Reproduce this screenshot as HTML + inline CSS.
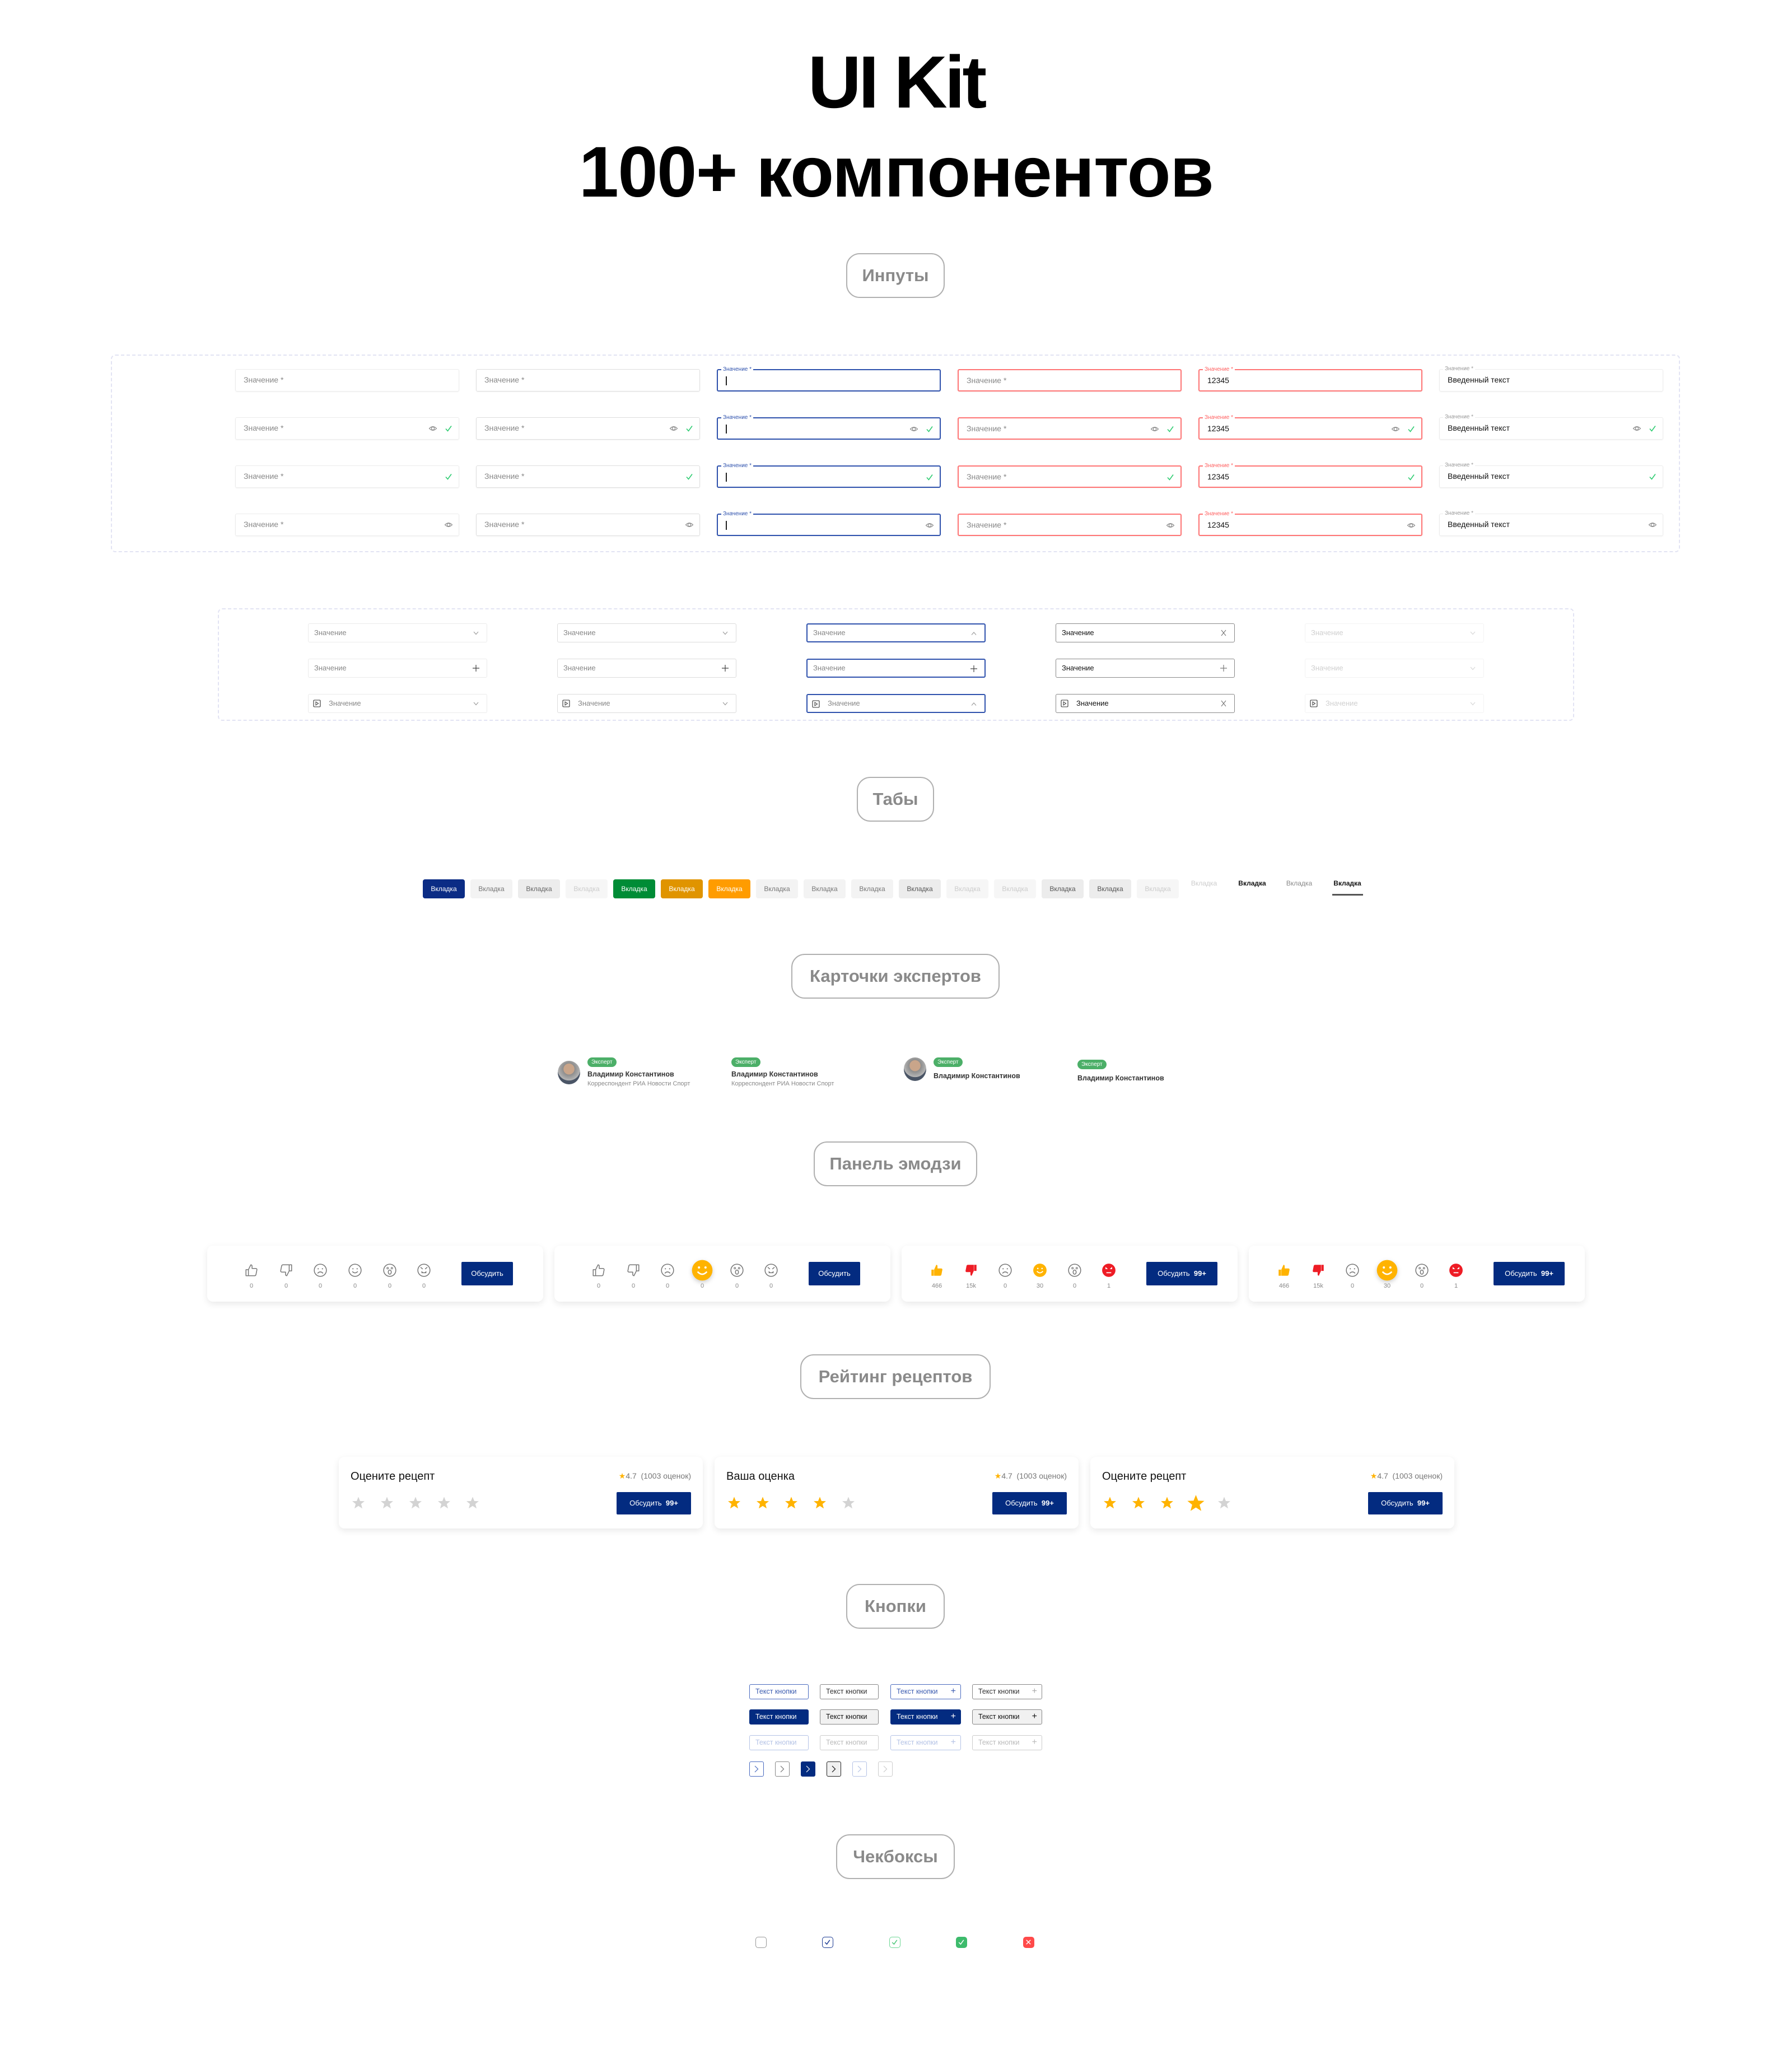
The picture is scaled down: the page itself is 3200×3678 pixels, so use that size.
<!DOCTYPE html>
<html><head><meta charset="utf-8">
<style>
*{box-sizing:border-box;margin:0;padding:0}
body{width:3200px;height:3678px;background:#fff;position:relative;font-family:"Liberation Sans",sans-serif;overflow:hidden}
.a{position:absolute}
.t1{position:absolute;left:0;width:3200px;text-align:center;font-weight:bold;color:#000;letter-spacing:-5px}
.pill{position:absolute;height:80px;border:2px solid #b0b0b0;border-radius:24px;font-weight:bold;font-size:31px;color:#8a8a8a;line-height:76px;text-align:center}
.dash{position:absolute;border:2px dashed #e2e3f3;border-radius:8px}
.in{position:absolute;width:400px;height:40px;border:1.5px solid #ececec;border-radius:3px;font-size:14px;color:#888;padding-left:14px;line-height:37px;box-shadow:0 1px 2px rgba(0,0,0,.05)}
.in.g2{border-color:#dedede}
.in.b{border:2px solid #2f52ad;line-height:36px}
.in.r{border:2px solid #ff7575;line-height:36px}
.in.k{color:#111}
.lb{position:absolute;top:-8px;left:6px;background:#fff;padding:0 3px;font-size:10px;line-height:13px;color:#999}
.b .lb{color:#2f52ad}.r .lb{color:#ff6060}
.cur{position:absolute;left:14px;top:11px;width:1.5px;height:16px;background:#222}
.i1,.i2{position:absolute;top:11px;width:16px;height:16px}
.i1{right:38px}.i2{right:10px}
.dd{position:absolute;width:320px;height:34px;border:1.5px solid #ebebeb;border-radius:3px;font-size:13px;color:#888;padding-left:10px;line-height:31px}
.dd.b{border:2px solid #2f52ad;line-height:30px}
.dd.d{border:1.5px solid #8a8a8a;color:#111}
.dd.f{border-color:#f3f3f3;color:#d0d0d0}
.dd .ic{position:absolute;right:12px;top:9px;width:14px;height:14px}
.dd .pl{position:absolute;left:8px;top:9px;width:14px;height:14px}
.dd.p{padding-left:36px}
.tab{position:absolute;top:1570px;width:75px;height:34px;border-radius:4px;font-size:12px;line-height:34px;text-align:center}
.bd{position:absolute;height:17px;padding:0 7px;background:#4caf68;color:#fff;border-radius:9px;font-size:10px;line-height:17px}
.nm{position:absolute;font-size:12.5px;font-weight:bold;color:#333;white-space:nowrap}
.sb{position:absolute;font-size:11px;color:#888;white-space:nowrap}
.av{position:absolute;width:40px;height:42px;border-radius:50%;background:radial-gradient(circle at 50% 35%,#c9a58a 0 28%,#8d8d8d 30%,#b5b5b5 60%,#4a5566 61%)}
.ep{position:absolute;top:2224px;width:600px;height:100px;border-radius:10px;background:#fff;box-shadow:0 4px 12px rgba(0,0,0,.09)}
.ep svg{position:absolute;top:31px;width:26px;height:26px}
.ep .big{top:24px;width:40px;height:40px;filter:drop-shadow(0 3px 4px rgba(0,0,0,.2))}
.cn{position:absolute;top:66px;width:40px;text-align:center;font-size:11px;color:#888}
.btn{position:absolute;top:29px;height:42px;background:#032b80;color:#fff;font-size:13px;line-height:42px;text-align:center;border-radius:2px}
.rc{position:absolute;top:2601px;width:650px;height:128px;border-radius:10px;background:#fff;box-shadow:0 4px 12px rgba(0,0,0,.09)}
.rt{position:absolute;left:21px;top:24px;font-size:20px;color:#111}
.rr{position:absolute;right:21px;top:26px;font-size:14px;color:#777}
.rc .st{position:absolute;top:70px;width:24px;height:24px}
.rb{position:absolute;right:21px;top:63px;width:133px;height:40px;background:#032b80;color:#fff;font-size:13px;line-height:40px;text-align:center;border-radius:2px}
.kb{position:absolute;height:27px;border:1.5px solid;border-radius:3px;font-size:12.5px;line-height:24px;padding-left:10px;white-space:nowrap}
.kb .pp{position:absolute;right:8px;top:0;font-size:16px}
.cv{position:absolute;top:3145px;width:26px;height:27px;border:1.5px solid;border-radius:3px}
.cb{position:absolute;top:3458px;width:20px;height:20px;border-radius:5px;border:1.5px solid}
</style></head><body>
<svg width="0" height="0" style="position:absolute">
<defs>
<symbol id="eye" viewBox="0 0 16 16"><path d="M1.5 8 Q8 1.5 14.5 8 Q8 14.5 1.5 8Z" fill="none" stroke="#8a8a8a" stroke-width="1.2"/><circle cx="8" cy="8" r="2.6" fill="none" stroke="#8a8a8a" stroke-width="1.2"/></symbol>
<symbol id="chk" viewBox="0 0 16 16"><path d="M3 8.5 L6.5 12.5 L13 3.5" fill="none" stroke="#2ecc71" stroke-width="1.6"/></symbol>
<symbol id="dn" viewBox="0 0 14 14"><path d="M3 5 L7 9.5 L11 5" fill="none" stroke="#999" stroke-width="1.1"/></symbol>
<symbol id="up" viewBox="0 0 14 14"><path d="M3 9.5 L7 5 L11 9.5" fill="none" stroke="#999" stroke-width="1.1"/></symbol>
<symbol id="pls" viewBox="0 0 14 14"><path d="M7 1 V13 M1 7 H13" fill="none" stroke="#444" stroke-width="1.2"/></symbol>
<symbol id="xx" viewBox="0 0 14 14"><path d="M3 2 L11 12 M11 2 L3 12" fill="none" stroke="#777" stroke-width="1.1"/></symbol>
<symbol id="ply" viewBox="0 0 14 14"><rect x="1" y="1" width="12" height="12" rx="1.5" fill="none" stroke="#333" stroke-width="1.1"/><path d="M5 4 L9.5 7 L5 10Z" fill="none" stroke="#333" stroke-width="1"/></symbol>
<symbol id="tu" viewBox="0 0 24 24"><path d="M3 11 H7 V21 H3Z M7 11 L11 3 C12.5 3 13 4 13 5.5 V9 H19 C20.5 9 21.3 10 21 11.3 L19.5 19 C19.2 20.3 18.4 21 17.2 21 H7" fill="none" stroke="#777" stroke-width="1.4" stroke-linejoin="round"/></symbol>
<symbol id="td" viewBox="0 0 24 24"><g transform="rotate(180 12 12)"><path d="M3 11 H7 V21 H3Z M7 11 L11 3 C12.5 3 13 4 13 5.5 V9 H19 C20.5 9 21.3 10 21 11.3 L19.5 19 C19.2 20.3 18.4 21 17.2 21 H7" fill="none" stroke="#777" stroke-width="1.4" stroke-linejoin="round"/></g></symbol>
<symbol id="tuf" viewBox="0 0 24 24"><path d="M3 11 H7 V21 H3Z M7.5 11 L11 3 C12.5 3 13 4 13 5.5 V9 H19 C20.5 9 21.3 10 21 11.3 L19.5 19 C19.2 20.3 18.4 21 17.2 21 H7.5Z" fill="#ffb300"/></symbol>
<symbol id="tdf" viewBox="0 0 24 24"><g transform="rotate(180 12 12)"><path d="M3 11 H7 V21 H3Z M7.5 11 L11 3 C12.5 3 13 4 13 5.5 V9 H19 C20.5 9 21.3 10 21 11.3 L19.5 19 C19.2 20.3 18.4 21 17.2 21 H7.5Z" fill="#ee1c25"/></g></symbol>
<symbol id="sad" viewBox="0 0 24 24"><circle cx="12" cy="12" r="10" fill="none" stroke="#777" stroke-width="1.4"/><circle cx="8.5" cy="9.5" r="1" fill="#777"/><circle cx="15.5" cy="9.5" r="1" fill="#777"/><path d="M7.5 17 Q12 12.5 16.5 17" fill="none" stroke="#777" stroke-width="1.4"/></symbol>
<symbol id="sm" viewBox="0 0 24 24"><circle cx="12" cy="12" r="10" fill="none" stroke="#777" stroke-width="1.4"/><circle cx="8.5" cy="9.5" r="1" fill="#777"/><circle cx="15.5" cy="9.5" r="1" fill="#777"/><path d="M7.5 14 Q12 18.5 16.5 14" fill="none" stroke="#777" stroke-width="1.4"/></symbol>
<symbol id="smf" viewBox="0 0 24 24"><circle cx="12" cy="12" r="11" fill="#ffb300"/><circle cx="8.5" cy="9" r="1.2" fill="#fff"/><circle cx="15.5" cy="9" r="1.2" fill="#fff"/><path d="M7 13.5 Q12 19 17 13.5" fill="none" stroke="#fff" stroke-width="1.6"/></symbol>
<symbol id="wow" viewBox="0 0 24 24"><circle cx="12" cy="12" r="10" fill="none" stroke="#777" stroke-width="1.4"/><circle cx="8.5" cy="8.5" r="1.3" fill="none" stroke="#777"/><circle cx="15.5" cy="8.5" r="1.3" fill="none" stroke="#777"/><ellipse cx="12" cy="15" rx="2.5" ry="3.5" fill="none" stroke="#777" stroke-width="1.4"/></symbol>
<symbol id="ang" viewBox="0 0 24 24"><circle cx="12" cy="12" r="10" fill="none" stroke="#777" stroke-width="1.4"/><path d="M6.5 7 L10 10 M17.5 7 L14 10 M8 16 H16 M8 14 L10 16 M16 14 L14 16" fill="none" stroke="#777" stroke-width="1.4"/></symbol>
<symbol id="angf" viewBox="0 0 24 24"><circle cx="12" cy="12" r="11" fill="#ee1c25"/><path d="M6.5 6.5 L10.5 10 L6.5 10Z M17.5 6.5 L13.5 10 L17.5 10Z" fill="#fff"/><path d="M8 16 H16" stroke="#fff" stroke-width="1.6"/></symbol>
<symbol id="star" viewBox="0 0 24 24"><path d="M12 1.5 L15 9 L23 9.3 L16.8 14.3 L19 22.3 L12 17.8 L5 22.3 L7.2 14.3 L1 9.3 L9 9Z"/></symbol>
<symbol id="cv" viewBox="0 0 26 27"><path d="M10 8 L15.5 13.5 L10 19" fill="none" stroke="currentColor" stroke-width="1.2"/></symbol>
</defs></svg>

<div class="t1" style="top:72px;font-size:132px;line-height:150px">UI Kit</div>
<div class="t1" style="top:233px;font-size:128px;line-height:150px;letter-spacing:-1.5px">100+ компонентов</div>

<div class="pill" style="left:1511px;top:452px;width:176px">Инпуты</div>
<div class="pill" style="left:1530px;top:1387px;width:138px">Табы</div>
<div class="pill" style="left:1413px;top:1703px;width:372px">Карточки экспертов</div>
<div class="pill" style="left:1453px;top:2038px;width:292px">Панель эмодзи</div>
<div class="pill" style="left:1429px;top:2418px;width:340px">Рейтинг рецептов</div>
<div class="pill" style="left:1511px;top:2828px;width:176px">Кнопки</div>
<div class="pill" style="left:1493px;top:3275px;width:212px">Чекбоксы</div>

<!-- Inputs -->
<div class="dash" style="left:198px;top:633px;width:2802px;height:353px"></div>
<div class="in" style="left:420px;top:659px">Значение *</div>
<div class="in g2" style="left:850px;top:659px">Значение *</div>
<div class="in b" style="left:1280px;top:659px"><span class="lb">Значение *</span><span class="cur"></span></div>
<div class="in r" style="left:1710px;top:659px">Значение *</div>
<div class="in r k" style="left:2140px;top:659px"><span class="lb">Значение *</span>12345</div>
<div class="in k" style="left:2570px;top:659px"><span class="lb">Значение *</span>Введенный текст</div>
<div class="in" style="left:420px;top:745px">Значение *<svg class="i1"><use href="#eye"/></svg><svg class="i2"><use href="#chk"/></svg></div>
<div class="in g2" style="left:850px;top:745px">Значение *<svg class="i1"><use href="#eye"/></svg><svg class="i2"><use href="#chk"/></svg></div>
<div class="in b" style="left:1280px;top:745px"><span class="lb">Значение *</span><span class="cur"></span><svg class="i1"><use href="#eye"/></svg><svg class="i2"><use href="#chk"/></svg></div>
<div class="in r" style="left:1710px;top:745px">Значение *<svg class="i1"><use href="#eye"/></svg><svg class="i2"><use href="#chk"/></svg></div>
<div class="in r k" style="left:2140px;top:745px"><span class="lb">Значение *</span>12345<svg class="i1"><use href="#eye"/></svg><svg class="i2"><use href="#chk"/></svg></div>
<div class="in k" style="left:2570px;top:745px"><span class="lb">Значение *</span>Введенный текст<svg class="i1"><use href="#eye"/></svg><svg class="i2"><use href="#chk"/></svg></div>
<div class="in" style="left:420px;top:831px">Значение *<svg class="i2"><use href="#chk"/></svg></div>
<div class="in g2" style="left:850px;top:831px">Значение *<svg class="i2"><use href="#chk"/></svg></div>
<div class="in b" style="left:1280px;top:831px"><span class="lb">Значение *</span><span class="cur"></span><svg class="i2"><use href="#chk"/></svg></div>
<div class="in r" style="left:1710px;top:831px">Значение *<svg class="i2"><use href="#chk"/></svg></div>
<div class="in r k" style="left:2140px;top:831px"><span class="lb">Значение *</span>12345<svg class="i2"><use href="#chk"/></svg></div>
<div class="in k" style="left:2570px;top:831px"><span class="lb">Значение *</span>Введенный текст<svg class="i2"><use href="#chk"/></svg></div>
<div class="in" style="left:420px;top:917px">Значение *<svg class="i2"><use href="#eye"/></svg></div>
<div class="in g2" style="left:850px;top:917px">Значение *<svg class="i2"><use href="#eye"/></svg></div>
<div class="in b" style="left:1280px;top:917px"><span class="lb">Значение *</span><span class="cur"></span><svg class="i2"><use href="#eye"/></svg></div>
<div class="in r" style="left:1710px;top:917px">Значение *<svg class="i2"><use href="#eye"/></svg></div>
<div class="in r k" style="left:2140px;top:917px"><span class="lb">Значение *</span>12345<svg class="i2"><use href="#eye"/></svg></div>
<div class="in k" style="left:2570px;top:917px"><span class="lb">Значение *</span>Введенный текст<svg class="i2"><use href="#eye"/></svg></div>

<!-- Dropdowns -->
<div class="dash" style="left:389px;top:1086px;width:2422px;height:201px"></div>
<div class="dd" style="left:550px;top:1113px">Значение<svg class="ic"><use href="#dn"/></svg></div>
<div class="dd" style="left:995px;top:1113px;border-color:#dcdcdc">Значение<svg class="ic"><use href="#dn"/></svg></div>
<div class="dd b" style="left:1440px;top:1113px">Значение<svg class="ic"><use href="#up"/></svg></div>
<div class="dd d" style="left:1885px;top:1113px">Значение<svg class="ic"><use href="#xx"/></svg></div>
<div class="dd f" style="left:2330px;top:1113px">Значение<svg class="ic" style="opacity:.4"><use href="#dn"/></svg></div>
<div class="dd" style="left:550px;top:1176px">Значение<svg class="ic"><use href="#pls"/></svg></div>
<div class="dd" style="left:995px;top:1176px;border-color:#dcdcdc">Значение<svg class="ic"><use href="#pls"/></svg></div>
<div class="dd b" style="left:1440px;top:1176px">Значение<svg class="ic"><use href="#pls"/></svg></div>
<div class="dd d" style="left:1885px;top:1176px">Значение<svg class="ic" style="opacity:.7"><use href="#pls"/></svg></div>
<div class="dd f" style="left:2330px;top:1176px">Значение<svg class="ic" style="opacity:.4"><use href="#dn"/></svg></div>
<div class="dd p" style="left:550px;top:1239px"><svg class="pl"><use href="#ply"/></svg>Значение<svg class="ic"><use href="#dn"/></svg></div>
<div class="dd p" style="left:995px;top:1239px;border-color:#dcdcdc"><svg class="pl"><use href="#ply"/></svg>Значение<svg class="ic"><use href="#dn"/></svg></div>
<div class="dd b p" style="left:1440px;top:1239px"><svg class="pl"><use href="#ply"/></svg>Значение<svg class="ic"><use href="#up"/></svg></div>
<div class="dd d p" style="left:1885px;top:1239px"><svg class="pl"><use href="#ply"/></svg>Значение<svg class="ic"><use href="#xx"/></svg></div>
<div class="dd f p" style="left:2330px;top:1239px"><svg class="pl"><use href="#ply"/></svg>Значение<svg class="ic" style="opacity:.4"><use href="#dn"/></svg></div>

<!-- Tabs -->
<div class="tab" style="left:755px;background:#0b2c85;color:#fff">Вкладка</div>
<div class="tab" style="left:840px;background:#f3f3f3;color:#777">Вкладка</div>
<div class="tab" style="left:925px;background:#ececec;color:#666">Вкладка</div>
<div class="tab" style="left:1010px;background:#f6f6f6;color:#ccc">Вкладка</div>
<div class="tab" style="left:1095px;background:#008c36;color:#fff">Вкладка</div>
<div class="tab" style="left:1180px;background:#e09400;color:#fff">Вкладка</div>
<div class="tab" style="left:1265px;background:#ff9c00;color:#fff">Вкладка</div>
<div class="tab" style="left:1350px;background:#f3f3f3;color:#777">Вкладка</div>
<div class="tab" style="left:1435px;background:#f3f3f3;color:#777">Вкладка</div>
<div class="tab" style="left:1520px;background:#f3f3f3;color:#777">Вкладка</div>
<div class="tab" style="left:1605px;background:#ececec;color:#555">Вкладка</div>
<div class="tab" style="left:1690px;background:#f6f6f6;color:#ccc">Вкладка</div>
<div class="tab" style="left:1775px;background:#f6f6f6;color:#ccc">Вкладка</div>
<div class="tab" style="left:1860px;background:#ececec;color:#555">Вкладка</div>
<div class="tab" style="left:1945px;background:#ececec;color:#555">Вкладка</div>
<div class="tab" style="left:2030px;background:#f6f6f6;color:#ccc">Вкладка</div>
<div class="tab" style="left:2118px;top:1560px;width:64px;color:#ccc">Вкладка</div>
<div class="tab" style="left:2204px;top:1560px;width:64px;color:#111;font-weight:bold">Вкладка</div>
<div class="tab" style="left:2288px;top:1560px;width:64px;color:#888">Вкладка</div>
<div class="tab" style="left:2374px;top:1560px;width:64px;color:#111;font-weight:bold">Вкладка</div>
<div class="a" style="left:2379px;top:1596px;width:55px;height:3px;background:#555"></div>

<!-- Experts -->
<div class="av" style="left:996px;top:1894px"></div>
<div class="bd" style="left:1049px;top:1888px">Эксперт</div>
<div class="nm" style="left:1049px;top:1911px">Владимир Константинов</div>
<div class="sb" style="left:1049px;top:1929px">Корреспондент РИА Новости Спорт</div>
<div class="bd" style="left:1306px;top:1888px">Эксперт</div>
<div class="nm" style="left:1306px;top:1911px">Владимир Константинов</div>
<div class="sb" style="left:1306px;top:1929px">Корреспондент РИА Новости Спорт</div>
<div class="av" style="left:1614px;top:1888px"></div>
<div class="bd" style="left:1667px;top:1888px">Эксперт</div>
<div class="nm" style="left:1667px;top:1914px">Владимир Константинов</div>
<div class="bd" style="left:1924px;top:1892px">Эксперт</div>
<div class="nm" style="left:1924px;top:1918px">Владимир Константинов</div>

<!-- Emoji panels -->
<div class="ep" style="left:370px">
<svg style="left:66px"><use href="#tu"/></svg><svg style="left:128px"><use href="#td"/></svg><svg style="left:189px"><use href="#sad"/></svg><svg style="left:251px"><use href="#sm"/></svg><svg style="left:313px"><use href="#wow"/></svg><svg style="left:374px"><use href="#ang"/></svg>
<div class="cn" style="left:59px">0</div><div class="cn" style="left:121px">0</div><div class="cn" style="left:182px">0</div><div class="cn" style="left:244px">0</div><div class="cn" style="left:306px">0</div><div class="cn" style="left:367px">0</div>
<div class="btn" style="left:454px;width:92px">Обсудить</div></div>

<div class="ep" style="left:990px">
<svg style="left:66px"><use href="#tu"/></svg><svg style="left:128px"><use href="#td"/></svg><svg style="left:189px"><use href="#sad"/></svg><svg class="big" style="left:244px"><use href="#smf"/></svg><svg style="left:313px"><use href="#wow"/></svg><svg style="left:374px"><use href="#ang"/></svg>
<div class="cn" style="left:59px">0</div><div class="cn" style="left:121px">0</div><div class="cn" style="left:182px">0</div><div class="cn" style="left:244px">0</div><div class="cn" style="left:306px">0</div><div class="cn" style="left:367px">0</div>
<div class="btn" style="left:454px;width:92px">Обсудить</div></div>

<div class="ep" style="left:1610px">
<svg style="left:50px"><use href="#tuf"/></svg><svg style="left:111px"><use href="#tdf"/></svg><svg style="left:172px"><use href="#sad"/></svg><svg style="left:234px"><use href="#smf"/></svg><svg style="left:296px"><use href="#wow"/></svg><svg style="left:357px"><use href="#angf"/></svg>
<div class="cn" style="left:43px">466</div><div class="cn" style="left:104px">15k</div><div class="cn" style="left:165px">0</div><div class="cn" style="left:227px">30</div><div class="cn" style="left:289px">0</div><div class="cn" style="left:350px">1</div>
<div class="btn" style="left:437px;width:127px">Обсудить&nbsp;&nbsp;<b>99+</b></div></div>

<div class="ep" style="left:2230px">
<svg style="left:50px"><use href="#tuf"/></svg><svg style="left:111px"><use href="#tdf"/></svg><svg style="left:172px"><use href="#sad"/></svg><svg class="big" style="left:227px"><use href="#smf"/></svg><svg style="left:296px"><use href="#wow"/></svg><svg style="left:357px"><use href="#angf"/></svg>
<div class="cn" style="left:43px">466</div><div class="cn" style="left:104px">15k</div><div class="cn" style="left:165px">0</div><div class="cn" style="left:227px">30</div><div class="cn" style="left:289px">0</div><div class="cn" style="left:350px">1</div>
<div class="btn" style="left:437px;width:127px">Обсудить&nbsp;&nbsp;<b>99+</b></div></div>

<!-- Rating -->
<div class="rc" style="left:605px"><div class="rt">Оцените рецепт</div><div class="rr"><span style="color:#ffb300">★</span>4.7&nbsp;&nbsp;(1003 оценок)</div>
<svg class="st" style="left:23px;fill:#d3d3d3"><use href="#star"/></svg><svg class="st" style="left:74px;fill:#d3d3d3"><use href="#star"/></svg><svg class="st" style="left:125px;fill:#d3d3d3"><use href="#star"/></svg><svg class="st" style="left:176px;fill:#d3d3d3"><use href="#star"/></svg><svg class="st" style="left:227px;fill:#d3d3d3"><use href="#star"/></svg>
<div class="rb">Обсудить&nbsp;&nbsp;<b>99+</b></div></div>
<div class="rc" style="left:1276px"><div class="rt">Ваша оценка</div><div class="rr"><span style="color:#ffb300">★</span>4.7&nbsp;&nbsp;(1003 оценок)</div>
<svg class="st" style="left:23px;fill:#ffb300"><use href="#star"/></svg><svg class="st" style="left:74px;fill:#ffb300"><use href="#star"/></svg><svg class="st" style="left:125px;fill:#ffb300"><use href="#star"/></svg><svg class="st" style="left:176px;fill:#ffb300"><use href="#star"/></svg><svg class="st" style="left:227px;fill:#d3d3d3"><use href="#star"/></svg>
<div class="rb">Обсудить&nbsp;&nbsp;<b>99+</b></div></div>
<div class="rc" style="left:1947px"><div class="rt">Оцените рецепт</div><div class="rr"><span style="color:#ffb300">★</span>4.7&nbsp;&nbsp;(1003 оценок)</div>
<svg class="st" style="left:23px;fill:#ffb300"><use href="#star"/></svg><svg class="st" style="left:74px;fill:#ffb300"><use href="#star"/></svg><svg class="st" style="left:125px;fill:#ffb300"><use href="#star"/></svg><svg class="st" style="left:172px;top:66px;width:33px;height:33px;fill:#ffb300"><use href="#star"/></svg><svg class="st" style="left:227px;fill:#d3d3d3"><use href="#star"/></svg>
<div class="rb">Обсудить&nbsp;&nbsp;<b>99+</b></div></div>

<!-- Buttons -->
<div class="kb" style="left:1338px;top:3007px;width:106px;border-color:#4a6bbf;color:#3c5cb0">Текст кнопки</div>
<div class="kb" style="left:1464px;top:3007px;width:105px;border-color:#888;color:#333">Текст кнопки</div>
<div class="kb" style="left:1590px;top:3007px;width:126px;border-color:#4a6bbf;color:#3c5cb0">Текст кнопки<span class="pp">+</span></div>
<div class="kb" style="left:1736px;top:3007px;width:125px;border-color:#888;color:#333">Текст кнопки<span class="pp" style="color:#aaa">+</span></div>

<div class="kb" style="left:1338px;top:3052px;width:106px;border-color:#032b80;background:#032b80;color:#fff">Текст кнопки</div>
<div class="kb" style="left:1464px;top:3052px;width:105px;border-color:#888;background:#f1f1f1;color:#111">Текст кнопки</div>
<div class="kb" style="left:1590px;top:3052px;width:126px;border-color:#032b80;background:#032b80;color:#fff">Текст кнопки<span class="pp">+</span></div>
<div class="kb" style="left:1736px;top:3052px;width:125px;border-color:#888;background:#f1f1f1;color:#111">Текст кнопки<span class="pp">+</span></div>

<div class="kb" style="left:1338px;top:3098px;width:106px;border-color:#b5c3e6;color:#b5c3e6">Текст кнопки</div>
<div class="kb" style="left:1464px;top:3098px;width:105px;border-color:#ccc;color:#bbb">Текст кнопки</div>
<div class="kb" style="left:1590px;top:3098px;width:126px;border-color:#b5c3e6;color:#b5c3e6">Текст кнопки<span class="pp">+</span></div>
<div class="kb" style="left:1736px;top:3098px;width:125px;border-color:#ccc;color:#bbb">Текст кнопки<span class="pp">+</span></div>

<div class="cv" style="left:1338px;border-color:#4a6bbf;color:#4a6bbf"><svg width="26" height="27" style="position:absolute;left:-1.5px;top:-1.5px"><use href="#cv"/></svg></div>
<div class="cv" style="left:1384px;border-color:#888;color:#777"><svg width="26" height="27" style="position:absolute;left:-1.5px;top:-1.5px"><use href="#cv"/></svg></div>
<div class="cv" style="left:1430px;border-color:#032b80;background:#032b80;color:#fff"><svg width="26" height="27" style="position:absolute;left:-1.5px;top:-1.5px"><use href="#cv"/></svg></div>
<div class="cv" style="left:1476px;border-color:#222;background:#f1f1f1;color:#111"><svg width="26" height="27" style="position:absolute;left:-1.5px;top:-1.5px"><use href="#cv"/></svg></div>
<div class="cv" style="left:1522px;border-color:#b5c3e6;color:#b5c3e6"><svg width="26" height="27" style="position:absolute;left:-1.5px;top:-1.5px"><use href="#cv"/></svg></div>
<div class="cv" style="left:1568px;border-color:#ccc;color:#ccc"><svg width="26" height="27" style="position:absolute;left:-1.5px;top:-1.5px"><use href="#cv"/></svg></div>

<!-- Checkboxes -->
<div class="cb" style="left:1349px;border-color:#999"></div>
<div class="cb" style="left:1468px;border-color:#1d3c94"><svg width="17" height="17" viewBox="0 0 16 16" style="position:absolute;left:0;top:0"><path d="M4 8.5 L7 11.5 L12 4.5" fill="none" stroke="#1d3c94" stroke-width="1.4"/></svg></div>
<div class="cb" style="left:1588px;border-color:#6fd796"><svg width="17" height="17" viewBox="0 0 16 16" style="position:absolute;left:0;top:0"><path d="M4 8.5 L7 11.5 L12 4.5" fill="none" stroke="#4cc77a" stroke-width="1.4"/></svg></div>
<div class="cb" style="left:1707px;border-color:#3dbb6c;background:#3dbb6c"><svg width="17" height="17" viewBox="0 0 16 16" style="position:absolute;left:0;top:0"><path d="M4 8.5 L7 11.5 L12 4.5" fill="none" stroke="#fff" stroke-width="1.4"/></svg></div>
<div class="cb" style="left:1827px;border-color:#ff4a4a;background:#ff4a4a"><svg width="17" height="17" viewBox="0 0 16 16" style="position:absolute;left:0;top:0"><path d="M4.5 4.5 L11.5 11.5 M11.5 4.5 L4.5 11.5" fill="none" stroke="#fff" stroke-width="1.4"/></svg></div>
</body></html>
